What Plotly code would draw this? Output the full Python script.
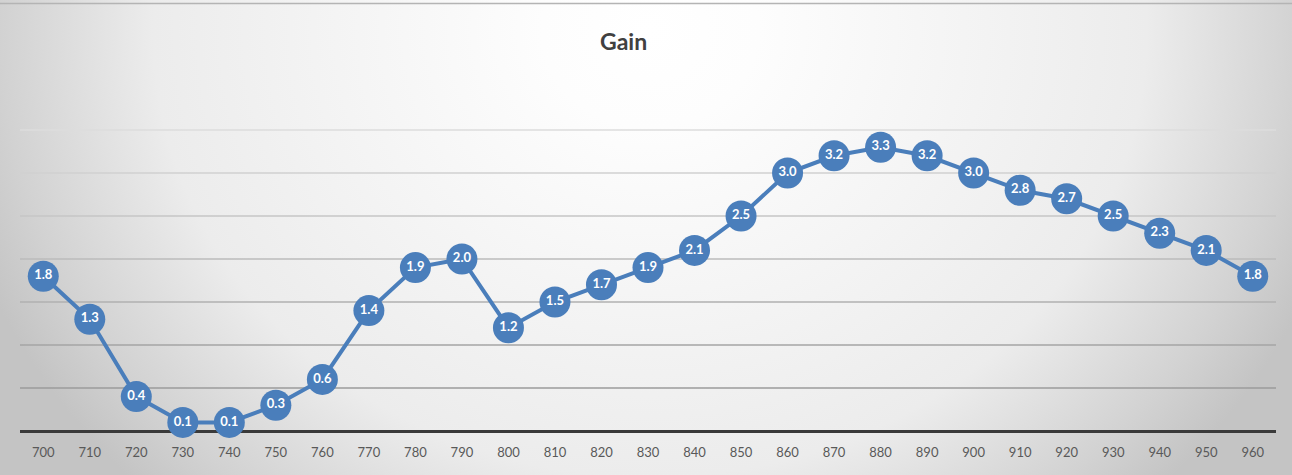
import base64
import plotly.graph_objects as go

# ---- data ----
categories = ["700", "710", "720", "730", "740", "750", "760", "770", "780", "790",
              "800", "810", "820", "830", "840", "850", "860", "870", "880", "890",
              "900", "910", "920", "930", "940", "950", "960"]
gain = [1.8, 1.3, 0.4, 0.1, 0.1, 0.3, 0.6, 1.4, 1.9, 2.0,
        1.2, 1.5, 1.7, 1.9, 2.1, 2.5, 3.0, 3.2, 3.3, 3.2,
        3.0, 2.8, 2.7, 2.5, 2.3, 2.1, 1.8]
grid_levels = [0.5, 1.0, 1.5, 2.0, 2.5, 3.0, 3.5]
title_text = "Gain"

# ---- geometry ----
W, H = 1292, 475
ML, MR, MT, MB = 20, 16, 87, 44
PW, PH = W - ML - MR, H - MT - MB

BLUE = "#4a7ebb"

# radial gradient background as an SVG image
svg = f'''<svg xmlns="http://www.w3.org/2000/svg" width="{W}" height="{H}" viewBox="0 0 {W} {H}">
<defs>
<radialGradient id="g" gradientUnits="userSpaceOnUse" cx="650" cy="30" r="720"
 gradientTransform="translate(650 30) scale(1 0.9) translate(-650 -30)">
<stop offset="0" stop-color="#ffffff"/>
<stop offset="0.15" stop-color="#fdfdfd"/>
<stop offset="0.69" stop-color="#ececec"/>
<stop offset="0.9" stop-color="#d2d2d2"/>
<stop offset="1" stop-color="#c4c4c4"/>
</radialGradient>
</defs>
<rect x="0" y="0" width="{W}" height="{H}" fill="url(#g)"/>
<line x1="0" y1="3.5" x2="{W}" y2="3.5" stroke="#b4b4b4" stroke-width="1.5"/>
</svg>'''
src = "data:image/svg+xml;base64," + base64.b64encode(svg.encode()).decode()

fig = go.Figure()
fig.add_trace(go.Scatter(
    x=categories, y=gain,
    mode="lines+markers+text",
    line=dict(color=BLUE, width=4),
    marker=dict(size=31, color=BLUE, line=dict(width=0)),
    text=[f"{v:.1f}" for v in gain],
    textposition="middle center",
    textfont=dict(family="Lato", size=13, color="white", weight="bold"),
    cliponaxis=False,
    hoverinfo="x+y",
))

shapes = []
n = len(grid_levels)
for i, lv in enumerate(grid_levels):
    frac = i / (n - 1)
    c = int(155 + frac * 65)
    shapes.append(dict(type="line", xref="paper", yref="y", x0=0, x1=1, y0=lv, y1=lv,
                       line=dict(color=f"rgb({c},{c},{c})", width=1.5), layer="below"))

fig.update_layout(
    width=W, height=H,
    margin=dict(l=ML, r=MR, t=MT, b=MB),
    paper_bgcolor="#d9d9d9",
    plot_bgcolor="rgba(0,0,0,0)",
    showlegend=False,
    images=[dict(source=src, xref="paper", yref="paper",
                 x=-ML / PW, y=1 + MT / PH, sizex=W / PW, sizey=H / PH,
                 xanchor="left", yanchor="top", sizing="stretch", layer="below")],
    shapes=shapes,
    annotations=[dict(text=title_text, xref="paper", yref="paper",
                      x=(623 - ML) / PW, y=1 + (MT - 41) / PH,
                      xanchor="center", yanchor="middle", showarrow=False,
                      font=dict(family="Lato", size=23, color="#404040", weight="bold"))],
    xaxis=dict(type="category", range=[-0.5, len(categories) - 0.5],
               showgrid=False, zeroline=False, showline=False, ticks="",
               ticklabelstandoff=12,
               tickfont=dict(family="Lato", size=13, color="#595959")),
    yaxis=dict(range=[0, 4], showgrid=False, zeroline=True, zerolinecolor="#3a3a3a",
               zerolinewidth=3, showticklabels=False, ticks="", showline=False),
)

fig.write_html("out.html",
               config={"displayModeBar": False},
               post_script="document.body.style.margin='0';document.body.style.overflow='hidden';")
